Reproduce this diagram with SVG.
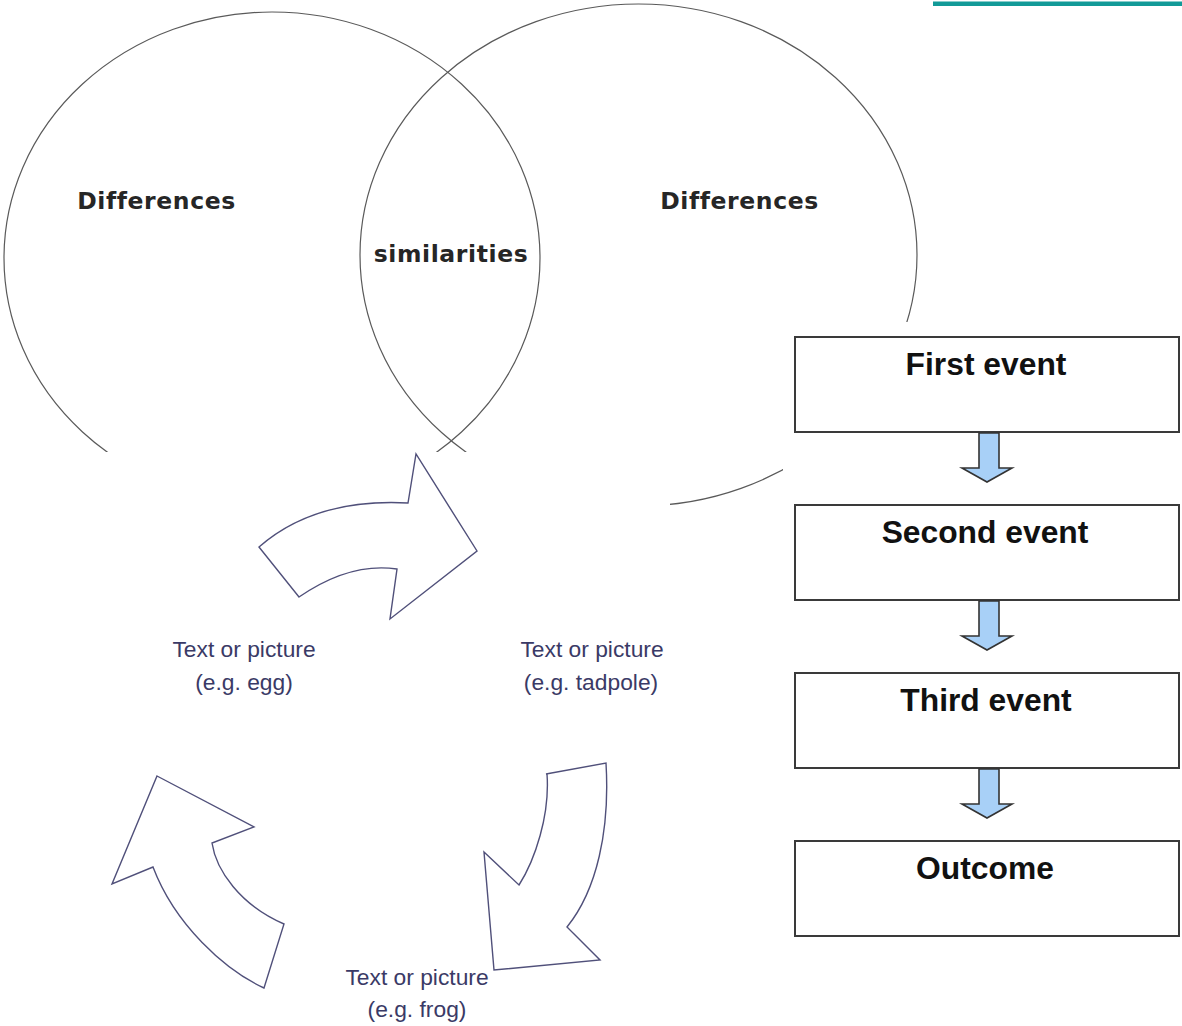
<svg xmlns="http://www.w3.org/2000/svg" width="1182" height="1026" viewBox="0 0 1182 1026">
<style>
.venn{fill:none;stroke:#5a5a5a;stroke-width:1.2}
.vlabel{font-family:"DejaVu Sans",Verdana,sans-serif;font-weight:bold;font-size:23.5px;fill:#262626;text-anchor:middle;letter-spacing:0.6px;font-variant-ligatures:none}
.cyc{fill:#fff;stroke:#50507a;stroke-width:1.4;stroke-linejoin:miter}
.ctext{font-family:"Liberation Sans",Arial,sans-serif;font-size:22.8px;fill:#3a3a66;text-anchor:middle}
.box{fill:#fff;stroke:#3a3a3a;stroke-width:2}
.btext{font-family:"Liberation Sans",Arial,sans-serif;font-weight:bold;font-size:31.8px;fill:#111;text-anchor:middle}
.down{fill:#a8d0f7;stroke:#333;stroke-width:1.6;stroke-linejoin:miter}
</style>
<defs>
<clipPath id="vennClip">
<polygon points="0,0 1182,0 1182,322 783,322 783,1026 670,1026 670,452 0,452"/>
</clipPath>
</defs>
<rect x="0" y="0" width="1182" height="1026" fill="#fff"/>
<rect id="teal-bar" x="933" y="1.5" width="249" height="4.5" fill="#129a98"/>

<g id="venn" clip-path="url(#vennClip)">
<ellipse id="venn-left" class="venn" cx="272" cy="258" rx="268" ry="246"/>
<ellipse id="venn-right" class="venn" cx="638.5" cy="255" rx="278.5" ry="251"/>
</g>
<g id="venn-labels">
<text id="label-diff-left" class="vlabel" x="156.5" y="209">Differences</text>
<text id="label-sim" class="vlabel" x="451" y="262">similarities</text>
<text id="label-diff-right" class="vlabel" x="739.5" y="209">Differences</text>
</g>

<g id="cycle-egg">
<text class="ctext" x="244" y="657">Text or picture</text>
<text class="ctext" x="244" y="690">(e.g. egg)</text>
</g>
<g id="cycle-tadpole">
<text class="ctext" x="592" y="657">Text or picture</text>
<text class="ctext" x="591" y="690">(e.g. tadpole)</text>
</g>
<g id="cycle-frog">
<text class="ctext" x="417" y="985">Text or picture</text>
<text class="ctext" x="417" y="1017">(e.g. frog)</text>
</g>

<g id="node-first">
<rect class="box" x="795" y="337" width="384" height="95"/>
<text class="btext" x="986" y="375">First event</text>
</g>
<g id="node-second">
<rect class="box" x="795" y="505" width="384" height="95"/>
<text class="btext" x="985" y="543">Second event</text>
</g>
<g id="node-third">
<rect class="box" x="795" y="673" width="384" height="95"/>
<text class="btext" x="986" y="711">Third event</text>
</g>
<g id="node-outcome">
<rect class="box" x="795" y="841" width="384" height="95"/>
<text class="btext" x="985" y="879">Outcome</text>
</g>

<g id="connectors">
<path class="cyc" d="M259,547 Q315,498 408,503 L416,454 L477,551 L390,619 L397,569 Q350,562 299,597 Z"/>
<path class="cyc" d="M546,774 L606,763 C610,830 597,890 567,927 L600,960 L494,970 L484,852 L519,885 C535,860 550,815 547,774 Z"/>
<path class="cyc" d="M157,776 L254,827 L212,843 C216,870 240,905 284,924 L264,988 C225,970 175,925 153,867 L112,884 Z"/>
<path class="down" d="M979,433 L999,433 L999,468 L1012,468 L987,482 L962,468 L979,468 Z"/>
<path class="down" d="M979,601 L999,601 L999,636 L1012,636 L987,650 L962,636 L979,636 Z"/>
<path class="down" d="M979,769 L999,769 L999,804 L1012,804 L987,818 L962,804 L979,804 Z"/>
</g>
</svg>
